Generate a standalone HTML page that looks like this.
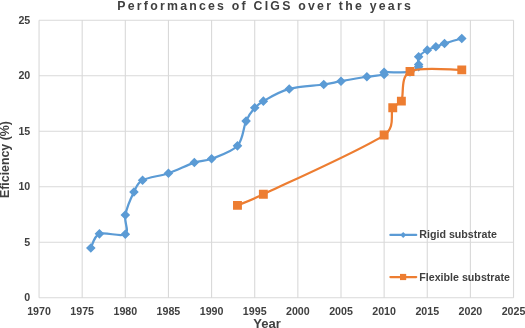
<!DOCTYPE html>
<html><head><meta charset="utf-8"><title>Performances of CIGS over the years</title>
<style>
html,body{margin:0;padding:0;background:#fff}
body{width:525px;height:328px;position:relative;overflow:hidden;font-family:"Liberation Sans",Arial,sans-serif;font-weight:bold;color:#404040}
.xl{position:absolute;top:304.6px;width:40px;text-align:center;font-size:10.67px;line-height:12px;white-space:nowrap}
.yl{position:absolute;left:0;width:30.3px;text-align:right;font-size:10.67px;line-height:12px}
.title{position:absolute;left:117.3px;top:-1.9px;font-size:12.3px;line-height:16px;letter-spacing:2.24px;white-space:nowrap}
.xt{position:absolute;left:253.3px;top:316.6px;font-size:13px;line-height:14px;white-space:nowrap}
.yt{position:absolute;left:-2.4px;top:198.2px;font-size:13px;line-height:14px;white-space:nowrap;transform-origin:0 0;transform:rotate(-90deg) scaleX(0.95)}
.lg{position:absolute;left:419.3px;font-size:10.67px;line-height:12px;white-space:nowrap}
</style></head><body>
<svg width="525" height="328" viewBox="0 0 525 328" style="position:absolute;left:0;top:0">
<path d="M39.05 20.30 V297.70 M82.19 20.30 V297.70 M125.32 20.30 V297.70 M168.45 20.30 V297.70 M211.59 20.30 V297.70 M254.73 20.30 V297.70 M297.86 20.30 V297.70 M341.00 20.30 V297.70 M384.13 20.30 V297.70 M427.27 20.30 V297.70 M470.40 20.30 V297.70 M513.53 20.30 V297.70 M39.05 297.70 H513.53 M39.05 242.22 H513.53 M39.05 186.74 H513.53 M39.05 131.26 H513.53 M39.05 75.78 H513.53 M39.05 20.30 H513.53" stroke="#d9d9d9" stroke-width="1.1" fill="none"/>
<path d="M90.81 248.06 C92.25 245.69 93.69 236.18 99.44 233.87 C105.19 231.56 121.01 237.34 125.32 234.20 C129.63 231.06 123.88 222.04 125.32 215.02 C126.76 207.99 131.07 197.87 133.95 192.06 C136.82 186.26 136.82 183.34 142.57 180.20 C148.33 177.06 159.83 176.15 168.45 173.21 C177.08 170.28 187.15 164.97 194.34 162.57 C201.53 160.17 204.40 161.59 211.59 158.80 C218.78 156.01 231.72 152.11 237.47 145.83 C243.22 139.54 243.22 127.44 246.10 121.10 C248.97 114.76 251.85 111.12 254.73 107.80 C257.60 104.47 258.57 103.75 263.35 101.14 C269.10 98.00 279.17 91.72 289.23 88.95 C299.30 86.17 315.11 85.80 323.74 84.51 C332.37 83.22 333.81 82.48 341.00 81.18 C348.18 79.89 359.69 77.86 366.88 76.75 C374.07 75.64 381.25 75.27 384.13 74.53 C385.20 74.26 383.03 72.42 384.13 72.31 C388.44 71.89 404.26 72.90 410.01 71.98 C414.99 71.18 417.20 68.01 418.64 66.77 C419.48 66.05 418.64 65.66 418.64 64.55 C418.64 62.89 417.20 59.19 418.64 56.79 C420.08 54.39 424.39 51.80 427.27 50.14 C430.14 48.47 433.02 47.92 435.89 46.81 C438.77 45.70 440.21 44.87 444.52 43.48 C448.83 42.10 458.90 39.33 461.77 38.50" stroke="#5b9bd5" stroke-width="2.25" fill="none" stroke-linecap="round" stroke-linejoin="round"/>
<path d="M90.81 243.26 L95.61 248.06 L90.81 252.86 L86.01 248.06Z M99.44 229.07 L104.24 233.87 L99.44 238.67 L94.64 233.87Z M125.32 229.40 L130.12 234.20 L125.32 239.00 L120.52 234.20Z M125.32 210.22 L130.12 215.02 L125.32 219.82 L120.52 215.02Z M133.95 187.26 L138.75 192.06 L133.95 196.86 L129.15 192.06Z M142.57 175.40 L147.37 180.20 L142.57 185.00 L137.77 180.20Z M168.45 168.41 L173.25 173.21 L168.45 178.01 L163.65 173.21Z M194.34 157.77 L199.14 162.57 L194.34 167.37 L189.54 162.57Z M211.59 154.00 L216.39 158.80 L211.59 163.60 L206.79 158.80Z M237.47 141.03 L242.27 145.83 L237.47 150.63 L232.67 145.83Z M246.10 116.30 L250.90 121.10 L246.10 125.90 L241.30 121.10Z M254.73 103.00 L259.53 107.80 L254.73 112.60 L249.93 107.80Z M263.35 96.34 L268.15 101.14 L263.35 105.94 L258.55 101.14Z M289.23 84.15 L294.03 88.95 L289.23 93.75 L284.43 88.95Z M323.74 79.71 L328.54 84.51 L323.74 89.31 L318.94 84.51Z M341.00 76.38 L345.80 81.18 L341.00 85.98 L336.20 81.18Z M366.88 71.95 L371.68 76.75 L366.88 81.55 L362.08 76.75Z M384.13 69.73 L388.93 74.53 L384.13 79.33 L379.33 74.53Z M384.13 67.51 L388.93 72.31 L384.13 77.11 L379.33 72.31Z M410.01 67.18 L414.81 71.98 L410.01 76.78 L405.21 71.98Z M418.64 61.97 L423.44 66.77 L418.64 71.57 L413.84 66.77Z M418.64 59.75 L423.44 64.55 L418.64 69.35 L413.84 64.55Z M418.64 51.99 L423.44 56.79 L418.64 61.59 L413.84 56.79Z M427.27 45.34 L432.07 50.14 L427.27 54.94 L422.47 50.14Z M435.89 42.01 L440.69 46.81 L435.89 51.61 L431.09 46.81Z M444.52 38.68 L449.32 43.48 L444.52 48.28 L439.72 43.48Z M461.77 33.70 L466.57 38.50 L461.77 43.30 L456.97 38.50Z" fill="#5b9bd5"/>
<path d="M237.47 205.37 C241.78 203.52 250.66 200.37 263.35 194.28 C287.80 182.57 362.56 149.49 384.13 135.07 C396.02 127.12 389.88 113.45 392.76 107.80 C395.23 102.94 399.05 106.06 401.38 101.14 C404.26 95.08 399.95 76.64 410.01 71.43 C420.08 66.22 453.15 70.13 461.77 69.87" stroke="#ed7d31" stroke-width="2.25" fill="none" stroke-linecap="round" stroke-linejoin="round"/>
<path d="M233.02 200.92 h8.90 v8.90 h-8.90Z M258.90 189.83 h8.90 v8.90 h-8.90Z M379.68 130.62 h8.90 v8.90 h-8.90Z M388.31 103.35 h8.90 v8.90 h-8.90Z M396.93 96.69 h8.90 v8.90 h-8.90Z M405.56 66.98 h8.90 v8.90 h-8.90Z M457.32 65.42 h8.90 v8.90 h-8.90Z" fill="#ed7d31"/>
<path d="M390.4 234.9 H416.2" stroke="#5b9bd5" stroke-width="2.25" stroke-linecap="round"/>
<path d="M403.20 231.90 L406.20 234.90 L403.20 237.90 L400.20 234.90Z" fill="#5b9bd5"/>
<path d="M390.4 277 H416.2" stroke="#ed7d31" stroke-width="2.25" stroke-linecap="round"/>
<path d="M400.00 273.90 h6.20 v6.20 h-6.20Z" fill="#ed7d31"/>
</svg>
<div class="title">Performances of CIGS over the years</div>
<div class="xl" style="left:19.05px">1970</div>
<div class="xl" style="left:62.19px">1975</div>
<div class="xl" style="left:105.32px">1980</div>
<div class="xl" style="left:148.45px">1985</div>
<div class="xl" style="left:191.59px">1990</div>
<div class="xl" style="left:234.73px">1995</div>
<div class="xl" style="left:277.86px">2000</div>
<div class="xl" style="left:321.00px">2005</div>
<div class="xl" style="left:364.13px">2010</div>
<div class="xl" style="left:407.27px">2015</div>
<div class="xl" style="left:450.40px">2020</div>
<div class="xl" style="left:493.53px">2025</div>
<div class="yl" style="top:291.40px">0</div>
<div class="yl" style="top:235.92px">5</div>
<div class="yl" style="top:180.44px">10</div>
<div class="yl" style="top:124.96px">15</div>
<div class="yl" style="top:69.48px">20</div>
<div class="yl" style="top:14.00px">25</div>
<div class="xt">Year</div>
<div class="yt">Eficiency (%)</div>
<div class="lg" style="top:228.1px">Rigid substrate</div>
<div class="lg" style="top:270.9px">Flexible substrate</div>
</body></html>
